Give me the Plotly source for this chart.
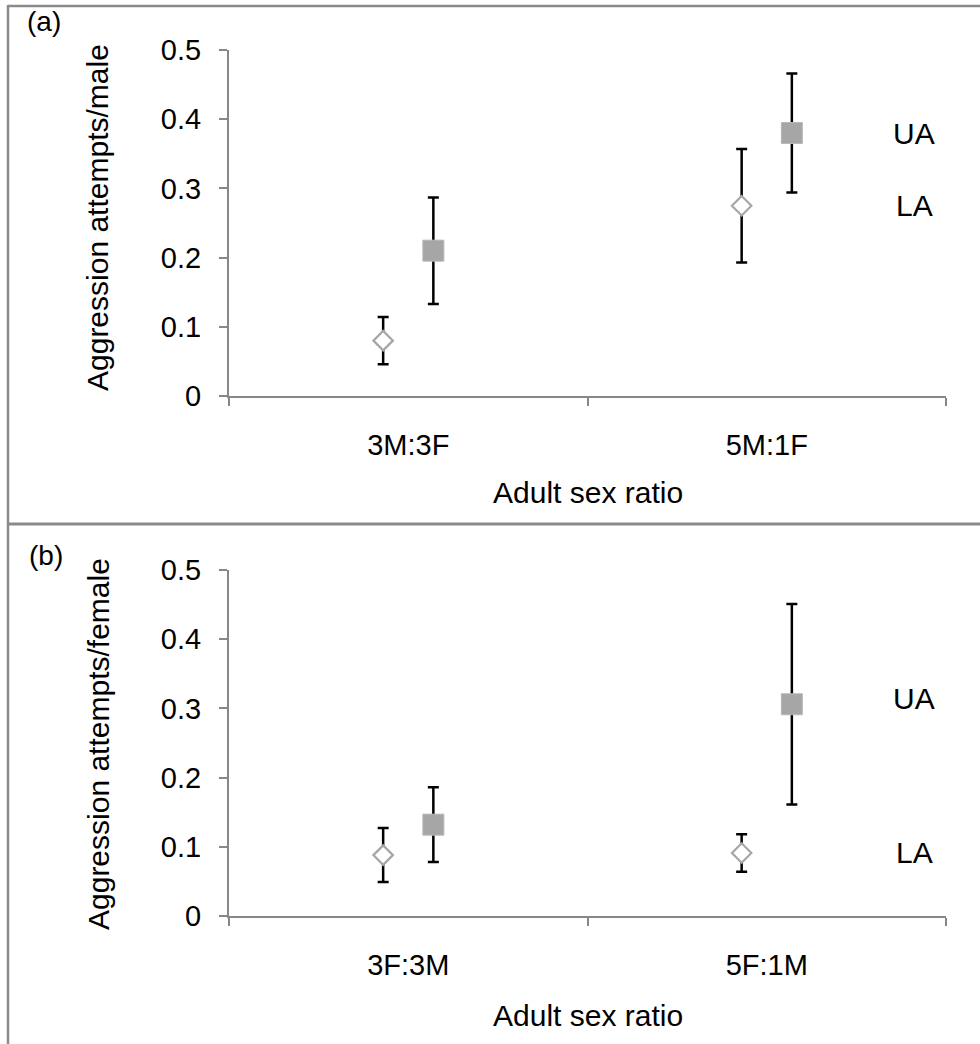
import plotly.graph_objects as go

# ---- data ----
cats_a = ["3M:3F", "5M:1F"]
cats_b = ["3F:3M", "5F:1M"]
la_a = [0.080, 0.275]
la_a_err = [0.034, 0.082]
ua_a = [0.210, 0.380]
ua_a_err = [0.077, 0.086]
la_b = [0.088, 0.091]
la_b_err = [0.039, 0.027]
ua_b = [0.132, 0.306]
ua_b_err = [0.054, 0.145]
ytick_vals = [0, 0.1, 0.2, 0.3, 0.4, 0.5]
ytick_text = ["0", "0.1", "0.2", "0.3", "0.4", "0.5"]
ylab_a = "Aggression attempts/male"
ylab_b = "Aggression attempts/female"
xlab = "Adult sex ratio"
series_names = ["LA", "UA"]
# label anchor heights (data units) for UA / LA text at right
lab_a = {"UA": 0.38, "LA": 0.275}
lab_b = {"UA": 0.315, "LA": 0.092}

FONT = "Liberation Sans, Arial, sans-serif"
FS = 29
AXC = "#878787"
W, H = 980, 1044
OFF = 0.07

fig = go.Figure()

def add_panel(la, la_err, ua, ua_err, xa, ya):
    xs = list(range(len(la)))
    fig.add_trace(go.Scatter(
        x=[x - OFF for x in xs], y=la, mode="markers", name=series_names[0],
        xaxis=xa, yaxis=ya, showlegend=False,
        marker=dict(symbol="diamond", size=15, color="white",
                    line=dict(color="#a6a6a6", width=2.2)),
        error_y=dict(type="data", array=la_err, visible=True,
                     color="black", thickness=2.5, width=5.5)))
    fig.add_trace(go.Scatter(
        x=[x + OFF for x in xs], y=ua, mode="markers", name=series_names[1],
        xaxis=xa, yaxis=ya, showlegend=False,
        marker=dict(symbol="square", size=21, color="#a6a6a6",
                    line=dict(color="#b8b8b8", width=1)),
        error_y=dict(type="data", array=ua_err, visible=True,
                     color="black", thickness=2.5, width=5.5)))

add_panel(la_a, la_a_err, ua_a, ua_a_err, "x", "y")
add_panel(la_b, la_b_err, ua_b, ua_b_err, "x2", "y2")

x0, x1 = 229 / W, 946 / W
dom_a = [1 - 396 / H, 1 - 50 / H]
dom_b = [1 - 916 / H, 1 - 570 / H]

def xaxis(cats, anchor):
    return dict(domain=[x0, x1], range=[-0.5, 1.5], anchor=anchor,
                automargin=False,
                tickvals=[0, 1], ticktext=cats, ticks="",
                showline=True, linecolor=AXC, linewidth=2,
                showgrid=False, zeroline=False,
                tickfont=dict(family=FONT, size=FS, color="black"),
                ticklabelstandoff=22,
                minor=dict(tickvals=[-0.5, 0.5, 1.5], ticks="outside",
                           ticklen=8, tickwidth=2, tickcolor=AXC, showgrid=False))

def yaxis(dom, anchor):
    return dict(domain=dom, range=[0, 0.5], anchor=anchor,
                automargin=False,
                tickvals=ytick_vals, ticktext=ytick_text,
                ticks="outside", ticklen=8, tickwidth=2, tickcolor=AXC,
                showline=True, linecolor=AXC, linewidth=2,
                showgrid=False, zeroline=False,
                tickfont=dict(family=FONT, size=FS, color="black"),
                ticklabelstandoff=12)

fig.update_layout(
    width=W, height=H, margin=dict(l=0, r=0, t=0, b=0, pad=0),
    autosize=False,
    paper_bgcolor="white", plot_bgcolor="white",
    xaxis=xaxis(cats_a, "y"), yaxis=yaxis(dom_a, "x"),
    xaxis2=xaxis(cats_b, "y2"), yaxis2=yaxis(dom_b, "x2"),
)

ann = []
def pa(xpx, ypx, text, angle=0, size=FS):
    ann.append(dict(x=xpx / W, y=1 - ypx / H, xref="paper", yref="paper",
                    text=text, showarrow=False, textangle=angle,
                    xanchor="center", yanchor="middle",
                    font=dict(family=FONT, size=size, color="black")))

pa(98, 218, ylab_a, angle=-90, size=30)
pa(98, 744, ylab_b, angle=-90, size=30)
pa(588, 492, xlab, size=30)
pa(588, 1015, xlab, size=30)
pa(44, 22, "(a)", size=28)
pa(46, 555, "(b)", size=28)

for k, v in lab_a.items():
    ann.append(dict(x=914 / W, y=v, xref="paper", yref="y", text=k, showarrow=False,
                    xanchor="center", yanchor="middle",
                    font=dict(family=FONT, size=30, color="black")))
for k, v in lab_b.items():
    ann.append(dict(x=914 / W, y=v, xref="paper", yref="y2", text=k, showarrow=False,
                    xanchor="center", yanchor="middle",
                    font=dict(family=FONT, size=30, color="black")))
fig.update_layout(annotations=ann)

# frame lines
BC = "#8a8a8a"
shapes = [
    dict(type="line", xref="paper", yref="paper", x0=8 / W, x1=1, y0=1 - 6 / H, y1=1 - 6 / H,
         line=dict(color=BC, width=2.5)),
    dict(type="line", xref="paper", yref="paper", x0=8 / W, x1=8 / W, y0=0, y1=1 - 5 / H,
         line=dict(color=BC, width=2.5)),
    dict(type="line", xref="paper", yref="paper", x0=8 / W, x1=1, y0=1 - 524 / H, y1=1 - 524 / H,
         line=dict(color=BC, width=3)),
]
fig.update_layout(shapes=shapes)

fig.write_html("out.html")
